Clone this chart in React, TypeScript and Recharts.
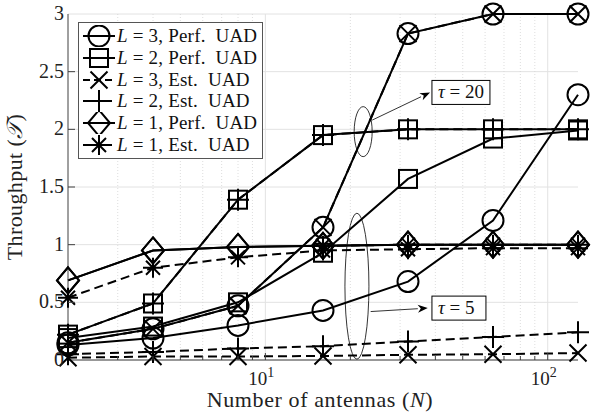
import React from "react";
import {
  LineChart,
  Line,
  XAxis,
  YAxis,
  CartesianGrid,
  ReferenceLine,
  ReferenceDot,
  Legend,
} from "recharts";

// number of antennas (x axis, log scale)
const antennas = [2, 4, 8, 16, 32, 64, 128];

// tau = 20 (perfect and estimated UAD overlap)
const l3PerfTau20 = [0.15, 0.27, 0.47, 1.15, 2.83, 3.0, 3.0];
const l3EstTau20 = [0.15, 0.27, 0.47, 1.15, 2.83, 3.0, 3.0];
const l2PerfTau20 = [0.22, 0.49, 1.39, 1.95, 2.0, 2.0, 2.0];
const l2EstTau20 = [0.22, 0.49, 1.39, 1.95, 2.0, 2.0, 2.0];
const l1PerfTau20 = [0.69, 0.95, 0.98, 0.99, 1.0, 1.0, 1.0];
const l1EstTau20 = [null, null, null, 0.99, 1.0, 1.0, 1.0];

// tau = 5
const l3PerfTau5 = [0.13, 0.19, 0.3, 0.43, 0.68, 1.21, 2.3];
const l2PerfTau5 = [0.19, 0.29, 0.5, 0.93, 1.57, 1.92, 1.99];
const l3EstTau5 = [0.02, 0.03, 0.03, 0.035, 0.045, 0.05, 0.06];
const l2EstTau5 = [0.05, 0.07, 0.1, 0.12, 0.16, 0.2, 0.24];
const l1PerfTau5 = [0.69, 0.95, 0.98, 0.99, 1.0, 1.0, 1.0];
const l1EstTau5 = [0.54, 0.8, 0.89, 0.95, 0.96, 0.97, 0.97];

const yTicks = [0, 0.5, 1, 1.5, 2, 2.5, 3];
const majorX = [10, 100];
const minorX = [3, 4, 5, 6, 7, 8, 9, 20, 30, 40, 50, 60, 70, 80, 90];
const xTicks = [...minorX.slice(0, 7), 10, ...minorX.slice(7), 100];

const data = antennas.map((n, i) => ({
  n,
  l3PerfTau20: l3PerfTau20[i],
  l3EstTau20: l3EstTau20[i],
  l2PerfTau20: l2PerfTau20[i],
  l2EstTau20: l2EstTau20[i],
  l1PerfTau20: l1PerfTau20[i],
  l1EstTau20: l1EstTau20[i],
  l3PerfTau5: l3PerfTau5[i],
  l2PerfTau5: l2PerfTau5[i],
  l3EstTau5: l3EstTau5[i],
  l2EstTau5: l2EstTau5[i],
  l1PerfTau5: l1PerfTau5[i],
  l1EstTau5: l1EstTau5[i],
}));

type Kind = "circle" | "square" | "x" | "plus" | "diamond" | "asterisk";

const series: { key: string; kind: Kind; dashed: boolean }[] = [
  { key: "l3PerfTau5", kind: "circle", dashed: false },
  { key: "l2PerfTau5", kind: "square", dashed: false },
  { key: "l3EstTau5", kind: "x", dashed: true },
  { key: "l2EstTau5", kind: "plus", dashed: true },
  { key: "l1PerfTau5", kind: "diamond", dashed: false },
  { key: "l1EstTau5", kind: "asterisk", dashed: true },
  { key: "l3PerfTau20", kind: "circle", dashed: false },
  { key: "l2PerfTau20", kind: "square", dashed: false },
  { key: "l3EstTau20", kind: "x", dashed: true },
  { key: "l2EstTau20", kind: "plus", dashed: true },
  { key: "l1PerfTau20", kind: "diamond", dashed: false },
  { key: "l1EstTau20", kind: "asterisk", dashed: true },
];

const legendRows: { kind: Kind; dashed: boolean; L: number; est: boolean }[] = [
  { kind: "circle", dashed: false, L: 3, est: false },
  { kind: "square", dashed: false, L: 2, est: false },
  { kind: "x", dashed: true, L: 3, est: true },
  { kind: "plus", dashed: true, L: 2, est: true },
  { kind: "diamond", dashed: false, L: 1, est: false },
  { kind: "asterisk", dashed: true, L: 1, est: true },
];

const FONT = "'Liberation Serif', 'Times New Roman', serif";
const AXIS = "#404040";
const DASH = "9 5";

function Marker({ kind, cx, cy }: { kind: Kind; cx: number; cy: number }) {
  const s = { fill: "none", stroke: "#000", strokeWidth: 2 };
  switch (kind) {
    case "circle":
      return <circle cx={cx} cy={cy} r={10.5} {...s} />;
    case "square":
      return <rect x={cx - 9} y={cy - 9} width={18} height={18} {...s} />;
    case "x":
      return <path d={`M${cx - 8.5},${cy - 8.5}L${cx + 8.5},${cy + 8.5}M${cx - 8.5},${cy + 8.5}L${cx + 8.5},${cy - 8.5}`} {...s} />;
    case "plus":
      return <path d={`M${cx - 11},${cy}H${cx + 11}M${cx},${cy - 11}V${cy + 11}`} {...s} />;
    case "diamond":
      return <path d={`M${cx},${cy - 13}L${cx + 11},${cy}L${cx},${cy + 13}L${cx - 11},${cy}Z`} {...s} />;
    default:
      return (
        <path
          d={`M${cx - 10},${cy}H${cx + 10}M${cx},${cy - 10}V${cy + 10}M${cx - 7},${cy - 7}L${cx + 7},${cy + 7}M${cx - 7},${cy + 7}L${cx + 7},${cy - 7}`}
          {...s}
        />
      );
  }
}

const dotFor = (kind: Kind) => (p: any) => {
  if (p.value == null || p.cx == null || p.cy == null) return <g key={p.key} />;
  return (
    <g key={p.key}>
      <Marker kind={kind} cx={p.cx} cy={p.cy} />
    </g>
  );
};

const BottomTick = (p: any) => {
  const { x, y, payload } = p;
  const major = majorX.includes(payload.value);
  const len = major ? 7 : 4;
  return (
    <g>
      <line x1={x} x2={x} y1={y} y2={y - len} stroke={AXIS} />
      {major && (
        <text x={x - 4} y={y + 25} textAnchor="middle" fontFamily={FONT} fontSize={19} fill="#222">
          10
          <tspan dy={-8} fontSize={14}>{Math.log10(payload.value)}</tspan>
        </text>
      )}
    </g>
  );
};

const TopTick = (p: any) => {
  const { x, y, payload } = p;
  const len = majorX.includes(payload.value) ? 7 : 4;
  return <line x1={x} x2={x} y1={y} y2={y + len} stroke={AXIS} />;
};

const LeftTick = (p: any) => {
  const { x, y, payload } = p;
  return (
    <g>
      {payload.value > 0 && payload.value < 3 && <line x1={x} x2={x + 7} y1={y} y2={y} stroke={AXIS} />}
      <text x={x - 4} y={y + 6} textAnchor="end" fontFamily={FONT} fontSize={20} fill="#222">
        {payload.value}
      </text>
    </g>
  );
};

const RightTick = (p: any) => {
  const { x, y, payload } = p;
  if (payload.value <= 0 || payload.value >= 3) return <g />;
  return <line x1={x} x2={x - 7} y1={y} y2={y} stroke={AXIS} />;
};

const Ellipse = (rx: number, ry: number) => (p: any) => (
  <ellipse cx={p.cx} cy={p.cy} rx={rx} ry={ry} fill="none" stroke="#000" strokeWidth={0.8} />
);

const TauBox = (value: string, w: number) => (p: any) => (
  <g>
    <rect x={p.cx} y={p.cy - 12} width={w} height={24} fill="#fff" stroke="#000" strokeWidth={1} />
    <text x={p.cx + 6} y={p.cy + 6} fontFamily={FONT} fontSize={19} fill="#111">
      <tspan fontStyle="italic">τ</tspan> = {value}
    </text>
  </g>
);

const Arrow = (p: any) => {
  const { x1, y1, x2, y2 } = p;
  const a = Math.atan2(y2 - y1, x2 - x1);
  const l = 10;
  const w = 4;
  const bx = x2 - l * Math.cos(a);
  const by = y2 - l * Math.sin(a);
  const px = -Math.sin(a) * w;
  const py = Math.cos(a) * w;
  return (
    <g>
      <line x1={x1} y1={y1} x2={bx} y2={by} stroke="#000" strokeWidth={0.8} />
      <path d={`M${x2},${y2}L${bx + px},${by + py}L${bx + l * 0.3 * Math.cos(a)},${by + l * 0.3 * Math.sin(a)}L${bx - px},${by - py}Z`} fill="#000" />
    </g>
  );
};

function LegendBox() {
  return (
    <div
      style={{
        background: "#fff",
        border: "1px solid #555",
        padding: "2px 5px 2px 2px",
        fontFamily: FONT,
        fontSize: 19,
        color: "#111",
        whiteSpace: "pre",
        letterSpacing: 0.2,
      }}
    >
      {legendRows.map((r, i) => (
        <div key={i} style={{ display: "flex", alignItems: "center", height: 21.8 }}>
          <svg width={36} height={22} style={{ display: "block" }}>
            <line x1={2} x2={34} y1={11} y2={11} stroke="#000" strokeWidth={2} strokeDasharray={r.dashed ? "7 4" : undefined} />
            <Marker kind={r.kind} cx={18} cy={11} />
          </svg>
          <span>
            <i>L</i> = {r.L}, {r.est ? "Est." : "Perf."}  UAD
          </span>
        </div>
      ))}
    </div>
  );
}

export default function App() {
  return (
    <div style={{ position: "absolute", left: 0, top: 0, width: 592, height: 413, background: "#fff" }}>
      <LineChart width={592} height={413} data={data} margin={{ top: 14, right: 14, bottom: 0, left: 0 }}>
        <CartesianGrid vertical={false} stroke="#e2e2e2" strokeWidth={1} />
        {minorX.map((v) => (
          <ReferenceLine key={"m" + v} x={v} stroke="#d6d6d6" strokeDasharray="1 2" strokeWidth={0.8} />
        ))}
        {majorX.map((v) => (
          <ReferenceLine key={"M" + v} x={v} stroke="#e2e2e2" strokeWidth={1} />
        ))}
        <XAxis
          dataKey="n"
          type="number"
          scale="log"
          domain={[2, 128]}
          ticks={xTicks}
          interval={0}
          height={53}
          tickSize={0}
          tickMargin={0}
          tickLine={false}
          tick={BottomTick}
          axisLine={{ stroke: AXIS }}
          label={{
            content: (p: any) => (
              <text
                x={p.viewBox.x + p.viewBox.width / 2 - 3}
                y={p.viewBox.y + 47}
                textAnchor="middle"
                fontFamily={FONT}
                fontSize={22}
                letterSpacing={0.6}
                fill="#222"
              >
                Number of antennas (<tspan fontStyle="italic">N</tspan>)
              </text>
            ),
          }}
        />
        <XAxis
          xAxisId="top"
          orientation="top"
          dataKey="n"
          type="number"
          scale="log"
          domain={[2, 128]}
          ticks={xTicks}
          interval={0}
          height={0}
          tickSize={0}
          tickMargin={0}
          tickLine={false}
          tick={TopTick}
          axisLine={{ stroke: AXIS }}
        />
        <YAxis
          type="number"
          domain={[0, 3]}
          ticks={yTicks}
          interval={0}
          width={68}
          tickSize={0}
          tickMargin={0}
          tickLine={false}
          tick={LeftTick}
          axisLine={{ stroke: AXIS }}
          label={{
            content: (p: any) => (
              <text
                x={17}
                y={p.viewBox.y + p.viewBox.height / 2}
                transform={`rotate(-90, 17, ${p.viewBox.y + p.viewBox.height / 2})`}
                textAnchor="middle"
                fontFamily={FONT}
                fontSize={22}
                letterSpacing={0.4}
                fill="#222"
                dominantBaseline="middle"
              >
                Throughput (<tspan fontStyle="italic">𝒯</tspan>)
              </text>
            ),
          }}
        />
        <YAxis
          yAxisId="right"
          orientation="right"
          type="number"
          domain={[0, 3]}
          ticks={yTicks}
          interval={0}
          width={0}
          tickSize={0}
          tickMargin={0}
          tickLine={false}
          tick={RightTick}
          axisLine={{ stroke: AXIS }}
        />
        {series.map((s) => (
          <Line
            key={s.key}
            dataKey={s.key}
            stroke="#000"
            strokeWidth={2}
            strokeDasharray={s.dashed ? DASH : undefined}
            dot={dotFor(s.kind)}
            activeDot={false}
            isAnimationActive={false}
            legendType="none"
          />
        ))}
        <ReferenceDot x={22.2} y={1.98} shape={Ellipse(9, 25)} ifOverflow="visible" />
        <ReferenceDot x={21.1} y={0.64} shape={Ellipse(12, 73)} ifOverflow="visible" />
        <ReferenceLine segment={[{ x: 23.9, y: 2.08 }, { x: 38.3, y: 2.32 }]} shape={Arrow} ifOverflow="visible" />
        <ReferenceLine segment={[{ x: 23.6, y: 0.42 }, { x: 37.6, y: 0.45 }]} shape={Arrow} ifOverflow="visible" />
        <ReferenceDot x={38.9} y={2.32} shape={TauBox("20", 58)} ifOverflow="visible" />
        <ReferenceDot x={38.9} y={0.45} shape={TauBox("5", 54)} ifOverflow="visible" />
        <Legend
          layout="horizontal"
          verticalAlign="middle"
          align="center"
          content={() => <LegendBox />}
          wrapperStyle={{ left: 78, top: 22, width: "auto", height: "auto" }}
        />
      </LineChart>
    </div>
  );
}
